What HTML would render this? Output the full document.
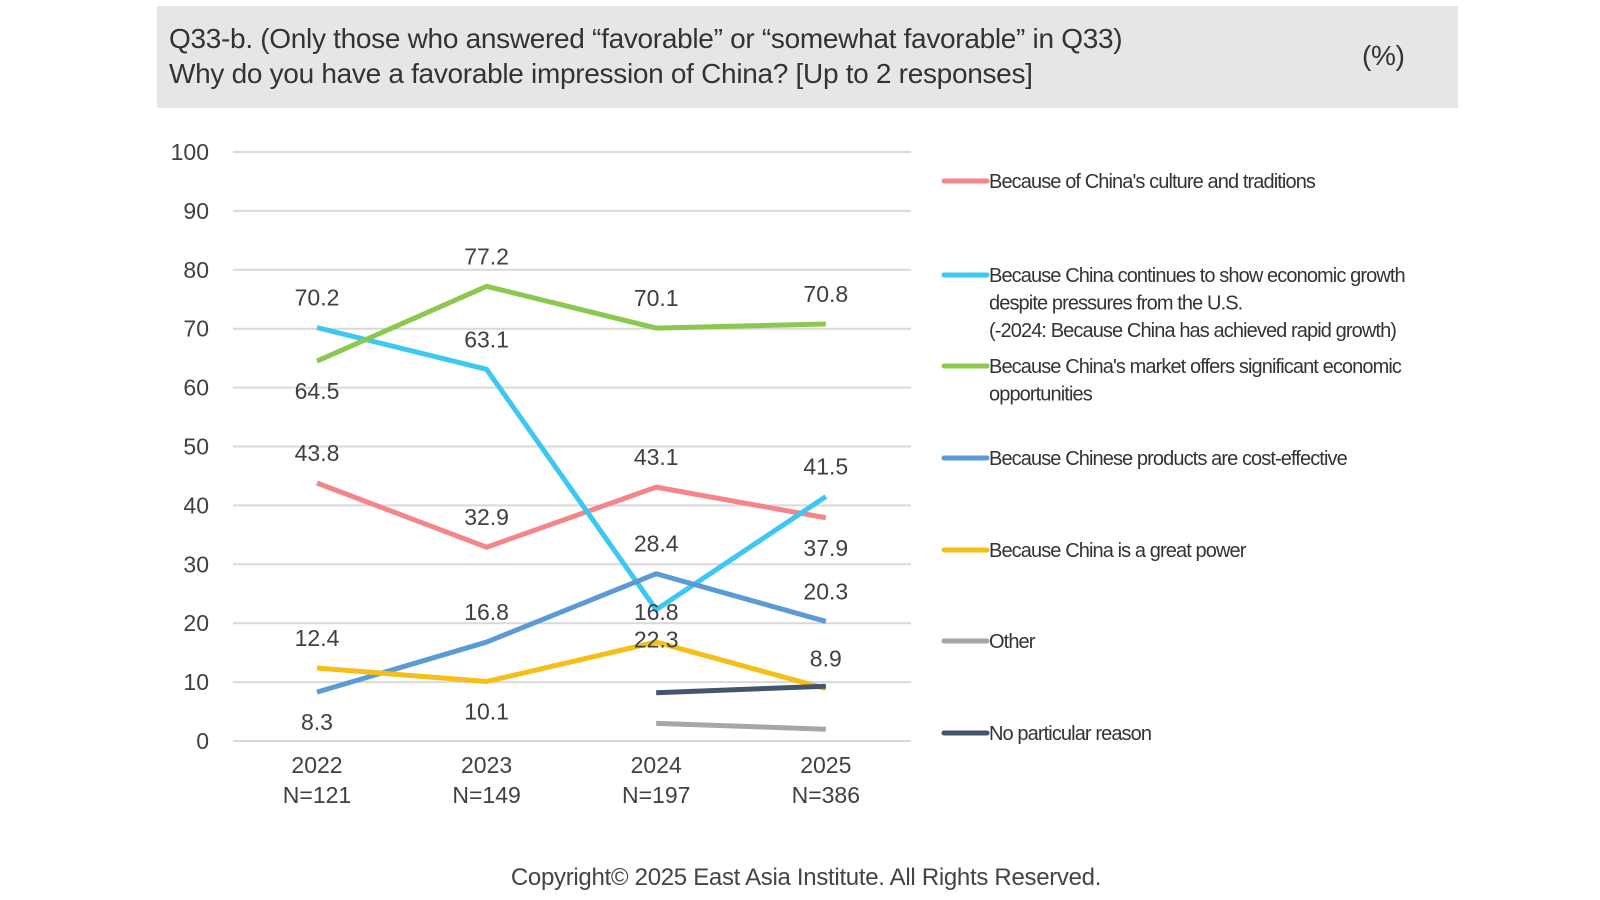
<!DOCTYPE html>
<html><head><meta charset="utf-8"><style>
body{margin:0;width:1600px;height:900px;background:#fff;position:relative;overflow:hidden;font-family:"Liberation Sans Narrow","Liberation Sans",sans-serif;color:#333}
.hdr{position:absolute;left:157px;top:6px;width:1301px;height:102px;background:#e6e6e6}
.t{position:absolute;left:169px;font-size:28px;color:#333;white-space:nowrap;font-family:"Liberation Sans",sans-serif;letter-spacing:-0.3px}
</style></head><body>
<div class="hdr"></div>
<div class="t" style="top:23px">Q33-b. (Only those who answered “favorable” or “somewhat favorable” in Q33)</div>
<div class="t" style="top:58px">Why do you have a favorable impression of China? [Up to 2 responses]</div>
<div class="t" style="left:1362px;top:40px">(%)</div>
<svg id="c" width="1600" height="900" style="position:absolute;left:0;top:0"></svg>
<div style="position:absolute;left:0;width:1612px;top:864px;text-align:center;font-size:24px;color:#444;font-family:'Liberation Sans',sans-serif;letter-spacing:-0.3px">Copyright© 2025 East Asia Institute. All Rights Reserved.</div>
<script>
const years=["2022","2023","2024","2025"];
const ns=["N=121","N=149","N=197","N=386"];
const yTicks=[0,10,20,30,40,50,60,70,80,90,100];
const culture=[43.8,32.9,43.1,37.9];
const growth=[70.2,63.1,22.3,41.5];
const market=[64.5,77.2,70.1,70.8];
const cost=[8.3,16.8,28.4,20.3];
const power=[12.4,10.1,16.8,8.9];
const other=[null,null,3.0,2.0];
const noReason=[null,null,8.2,9.3];
const S="http://www.w3.org/2000/svg";
const svg=document.getElementById('c');
const X0=233,X1=911,Y0=741,Y100=152;
const xs=i=>317+i*169.6;
const ys=v=>Y0-(Y0-Y100)*v/100;
function el(t,a,txt){const e=document.createElementNS(S,t);for(const k in a)e.setAttribute(k,a[k]);if(txt!=null)e.textContent=txt;svg.appendChild(e);return e;}
yTicks.forEach(v=>{
 const g=el('line',{x1:X0,x2:X1,y1:ys(v),y2:ys(v),stroke:'#d9d9d9','stroke-width':2});
 
 
 const t=el('text',{x:209,y:ys(v)+8,'text-anchor':'end','font-size':23,fill:'#404040'},String(v));
 
 
});
years.forEach((y,i)=>{
 const a=el('text',{x:xs(i),y:773,'text-anchor':'middle','font-size':23,fill:'#404040'},y);
 
 
 const b=el('text',{x:xs(i),y:803,'text-anchor':'middle','font-size':23,fill:'#404040'},ns[i]);
 
 
});
const series=[
 {k:'culture',d:culture,c:'#f4868a',pos:[-1,-1,-1,1]},
 {k:'growth',d:growth,c:'#3cc8f2',pos:[-1,-1,1,-1]},
 {k:'market',d:market,c:'#8cc850',pos:[1,-1,-1,-1]},
 {k:'cost',d:cost,c:'#5b9bd5',pos:[1,-1,-1,-1]},
 {k:'power',d:power,c:'#f5bf17',pos:[-1,1,-1,-1]},
 {k:'other',d:other,c:'#a6a6a6',pos:null},
 {k:'no-reason',d:noReason,c:'#44546a',pos:null}
];
series.forEach(s=>{
 const pts=[];s.d.forEach((v,i)=>{if(v!=null)pts.push(xs(i)+','+ys(v));});
 const p=el('polyline',{points:pts.join(' '),fill:'none',stroke:s.c,'stroke-width':5,'stroke-linejoin':'round'});
 
 
});
series.forEach(s=>{
 if(!s.pos)return;
 s.d.forEach((v,i)=>{
  const y=ys(v)+s.pos[i]*30+8;
  const t=el('text',{x:xs(i),y:y,'text-anchor':'middle','font-size':23,fill:'#404040'},v.toFixed(1));
  
  
 });
});
const legend=[
 {c:'#f4868a',y:181,t:["Because of China's culture and traditions"]},
 {c:'#3cc8f2',y:275,t:["Because China continues to show economic growth","despite pressures from the U.S.","(-2024: Because China has achieved rapid growth)"]},
 {c:'#8cc850',y:366,t:["Because China's market offers significant economic","opportunities"]},
 {c:'#5b9bd5',y:458,t:["Because Chinese products are cost-effective"]},
 {c:'#f5bf17',y:550,t:["Because China is a great power"]},
 {c:'#a6a6a6',y:641,t:["Other"]},
 {c:'#44546a',y:733,t:["No particular reason"]}
];
legend.forEach((l,j)=>{
 const ln=el('line',{x1:944,x2:987,y1:l.y,y2:l.y,stroke:l.c,'stroke-width':5,'stroke-linecap':'round'});
 
 
 l.t.forEach((tx,k)=>{
  const t=el('text',{x:989,y:l.y+7+k*27.5,'font-size':20,fill:'#333','letter-spacing':'-0.9'},tx);
  
  
 });
});
</script>
</body></html>
